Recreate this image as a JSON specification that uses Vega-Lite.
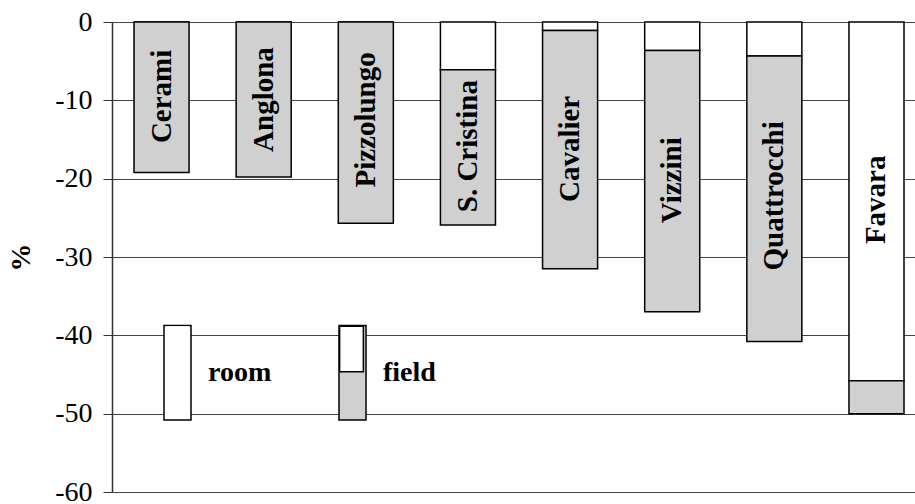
{
  "$schema": "https://vega.github.io/schema/vega-lite/v6.json",
  "width": 803,
  "height": 470,
  "autosize": {"type": "none"},
  "padding": {"left": 112, "top": 22, "right": 0, "bottom": 12},
  "background": "white",
  "config": {
    "view": {"stroke": null},
    "font": "Liberation Serif"
  },
  "datasets": {
    "bars": [
      {"site": "Cerami", "room": 0, "total": -19.2, "ly": -9.5},
      {"site": "Anglona", "room": 0, "total": -19.8, "ly": -9.9},
      {"site": "Pizzolungo", "room": 0, "total": -25.7, "ly": -12.5},
      {"site": "S. Cristina", "room": -6.1, "total": -25.9, "ly": -15.85},
      {"site": "Cavalier", "room": -1.1, "total": -31.5, "ly": -16.2},
      {"site": "Vizzini", "room": -3.65, "total": -37.0, "ly": -20.2},
      {"site": "Quattrocchi", "room": -4.35, "total": -40.8, "ly": -22.2},
      {"site": "Favara", "room": -45.8, "total": -50.0, "ly": -22.7}
    ],
    "legend": [
      {"part": "room", "part2": "room"},
      {"part": "field", "part2": "field"}
    ]
  },
  "encoding": {
    "x": {
      "field": "site",
      "type": "nominal",
      "sort": null,
      "axis": null,
      "scale": {"paddingInner": 0.461, "paddingOuter": 0.1616, "align": 0.667}
    }
  },
  "layer": [
    {
      "data": {"name": "bars"},
      "mark": {"type": "bar", "fill": "white", "stroke": "black", "strokeWidth": 1.5},
      "encoding": {
        "y": {
          "field": "room",
          "type": "quantitative",
          "scale": {"domain": [-60, 0], "nice": false, "zero": false},
          "axis": {
            "values": [0, -10, -20, -30, -40, -50, -60],
            "labelExpr": "toString(datum.value)",
            "title": "%",
            "titleFont": "Liberation Serif",
            "titleFontWeight": "bold",
            "titleFontSize": 28,
            "titleColor": "black",
            "titlePadding": 19,
            "labelFont": "Liberation Serif",
            "labelFontSize": 28,
            "labelColor": "black",
            "labelPadding": 11,
            "tickSize": 9,
            "tickColor": "#333",
            "tickWidth": 1,
            "domainColor": "#333",
            "domainWidth": 1.5,
            "grid": true,
            "gridColor": "#444",
            "gridWidth": 1
          }
        },
        "y2": {"datum": 0}
      }
    },
    {
      "data": {"name": "bars"},
      "mark": {"type": "bar", "fill": "#d0d0d0", "stroke": "black", "strokeWidth": 1.5},
      "encoding": {
        "y": {"field": "room", "type": "quantitative"},
        "y2": {"field": "total"}
      }
    },
    {
      "data": {"name": "bars"},
      "mark": {
        "type": "text",
        "angle": 270,
        "align": "center",
        "baseline": "middle",
        "font": "Liberation Serif",
        "fontWeight": "bold",
        "fontSize": 29,
        "color": "black"
      },
      "encoding": {
        "y": {"field": "ly", "type": "quantitative"},
        "text": {"field": "site"}
      }
    },
    {
      "data": {"name": "legend"},
      "mark": {"type": "bar", "strokeWidth": 0},
      "encoding": {
        "x": {"datum": "Cerami"},
        "y": {"datum": 0},
        "y2": {"datum": 0},
        "fill": {
          "field": "part",
          "type": "nominal",
          "sort": ["room", "field"],
          "scale": {"range": ["white", "#d0d0d0"]},
          "legend": {
            "orient": "none",
            "legendX": 51,
            "legendY": 336,
            "direction": "horizontal",
            "title": null,
            "symbolType": "M-1,-3.5H1V3.5H-1Z",
            "symbolSize": 729,
            "symbolStrokeColor": "black",
            "symbolStrokeWidth": 1.5,
            "symbolOpacity": 1,
            "labelFont": "Liberation Serif",
            "labelFontWeight": "bold",
            "labelFontSize": 28,
            "labelColor": "black",
            "labelOffset": 16,
            "columnPadding": 64,
            "padding": 0,
            "zindex": 1
          }
        },
        "stroke": {
          "field": "part2",
          "type": "nominal",
          "sort": ["room", "field"],
          "scale": {"range": ["transparent", "black"]},
          "legend": {
            "orient": "none",
            "legendX": 51,
            "legendY": 336,
            "direction": "horizontal",
            "title": null,
            "symbolType": "M-0.88,-3.45H0.88V-0.08H-0.88Z",
            "symbolSize": 729,
            "symbolFillColor": "white",
            "symbolStrokeWidth": 1.5,
            "symbolOpacity": 1,
            "labelFont": "Liberation Serif",
            "labelFontWeight": "bold",
            "labelFontSize": 28,
            "labelColor": "black",
            "labelOpacity": 0,
            "labelOffset": 16,
            "columnPadding": 64,
            "padding": 0,
            "zindex": 2
          }
        }
      }
    }
  ]
}
